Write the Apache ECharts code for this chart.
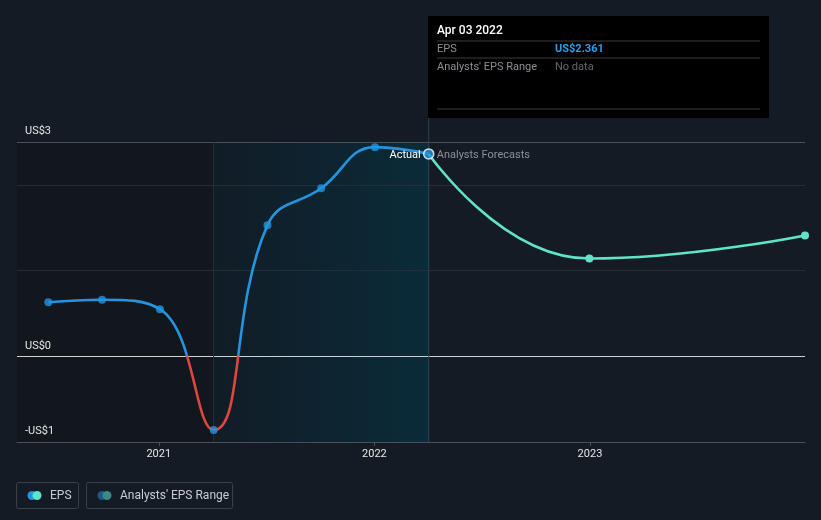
<!DOCTYPE html>
<html><head><meta charset="utf-8">
<script src="https://cdn.jsdelivr.net/npm/echarts@6/dist/echarts.min.js"></script>
<style>html,body{margin:0;padding:0;background:#151b24}#c{width:821px;height:520px}</style>
</head><body><div id="c"></div>
<script>
const actualDates = ['2020-06-28','2020-09-27','2021-01-03','2021-04-04','2021-07-04','2021-10-03','2022-01-02','2022-04-03'];
const actualEps = [0.63, 0.66, 0.55, -0.86, 1.53, 1.96, 2.44, 2.361];
const forecastDates = ['2022-04-03','2022-12-31','2023-12-31'];
const forecastEps = [2.361, 1.14, 1.41];
const yearTicks = ['2021-01-01','2022-01-01','2023-01-01'];
const yMin = -1, yMax = 2.5;
const yTickLabels = {'-1':'-US$1','0':'US$0','2.5':'US$3'};
const pastStart = '2020-05-06', rangeStart = '2021-04-04', rangeEnd = '2022-04-03', axisEnd = '2023-12-31';
const tooltipDate = 'Apr 03 2022', tooltipEps = 'US$2.361', tooltipRange = 'No data';
const legendItems = ['EPS', "Analysts' EPS Range"];

const FONT = 'Roboto, "Noto Sans", sans-serif';
const BLUE = '#2394df', RED = '#e0453f', TEAL = '#5fe3c9';
const chart = echarts.init(document.getElementById('c'), null, {renderer:'canvas'});
const ts = d => new Date(d + 'T00:00:00Z').getTime();

const option = {
  backgroundColor: '#151b24',
  animation: false,
  textStyle: {fontFamily: FONT},
  grid: {left: 17, right: 16, top: 142, bottom: 78, containLabel: false},
  xAxis: {
    type: 'value', min: ts(pastStart), max: ts(axisEnd), z: 1,
    axisLine: {show: true, onZero: false, lineStyle: {color: '#4a5058', width: 1}},
    axisTick: {show: true, customValues: yearTicks.map(ts), length: 4, lineStyle: {color: '#4a5058'}},
    axisLabel: {show: true, customValues: yearTicks.map(ts), color: '#e6e6e6', fontSize: 11, margin: 7,
      fontFamily: FONT, formatter: v => String(new Date(v).getUTCFullYear())},
    splitLine: {show: false}
  },
  yAxis: {
    type: 'value', min: yMin, max: yMax, interval: 1, z: 1,
    axisLine: {show: false}, axisTick: {show: false},
    axisLabel: {inside: true, color: '#e6e6e6', fontSize: 11, fontFamily: FONT, margin: 8,
      verticalAlign: 'bottom', padding: [0,0,5,0],
      formatter: v => { const k = String(Math.round(v*10)/10); return yTickLabels[k] || ''; }},
    splitLine: {show: true, lineStyle: {color: ['#4a5058','#cfcfcf','#262d36','#262d36','#4a5058'], width: 1}}
  },
  series: [
    {
      type: 'line', z: 0, silent: true, symbol: 'none',
      data: [[ts(pastStart), 0]], lineStyle: {opacity: 0},
      markArea: {
        silent: true, z: 0,
        data: [
          [{xAxis: ts(pastStart), itemStyle: {color: '#12171e'}}, {xAxis: ts(rangeStart)}],
          [{xAxis: ts(rangeStart), itemStyle: {color: new echarts.graphic.LinearGradient(0,0,1,0,[
            {offset: 0, color: '#111c26'}, {offset: 1, color: '#0b2b39'}])}}, {xAxis: ts(rangeEnd)}]
        ]
      },
      markLine: {
        silent: true, symbol: 'none', z: 2, label: {show: false},
        data: [
          {xAxis: ts(rangeStart), lineStyle: {color: '#1a2f39', width: 1, type: 'solid'}}
        ]
      }
    },
    {
      type: 'line', z: 3, smooth: 0.45, showSymbol: false, silent: true,
      data: actualDates.map((d, i) => [ts(d), actualEps[i]]),
      lineStyle: {width: 2.6, color: BLUE}
    },
    {
      type: 'line', z: 3, smooth: 0.5, silent: true, symbol: 'circle', symbolSize: 8,
      data: forecastDates.map((d, i) => ({value: [ts(d), forecastEps[i]], symbolSize: i === 0 ? 0 : 8})),
      itemStyle: {color: TEAL},
      lineStyle: {width: 2.6, color: TEAL}
    },
    {
      type: 'scatter', z: 5, silent: true, symbol: 'circle',
      data: actualDates.map((d, i) => {
        const last = i === actualDates.length - 1;
        return {value: [ts(d), actualEps[i]], symbolSize: last ? 10 : 8,
          itemStyle: last ? {color: BLUE, borderColor: '#ffffff', borderWidth: 1.5} : {color: BLUE}};
      })
    }
  ]
};
chart.setOption(option);

const pEnd = chart.convertToPixel({gridIndex: 0}, [ts(rangeEnd), actualEps[actualEps.length - 1]]);
const pBottom = chart.convertToPixel({gridIndex: 0}, [ts(rangeEnd), yMin]);
const pTop = chart.convertToPixel({gridIndex: 0}, [ts(rangeEnd), yMax]);
const pZero = chart.convertToPixel({gridIndex: 0}, [ts(rangeEnd), 0]);
const f = (pZero[1] - pTop[1]) / (pBottom[1] - pTop[1]);

chart.setOption({
  series: [{}, {lineStyle: {color: new echarts.graphic.LinearGradient(0, pTop[1], 0, pBottom[1], [
    {offset: 0, color: BLUE}, {offset: f, color: BLUE}, {offset: f, color: RED}, {offset: 1, color: RED}], true)}}],
  graphic: [
    {type: 'line', z: 2, silent: true, shape: {x1: pEnd[0], y1: 118, x2: pEnd[0], y2: pBottom[1]},
      style: {stroke: '#2b4652', lineWidth: 1}},
    {type: 'text', z: 10, silent: true, x: pEnd[0] - 8, y: pEnd[1] + 1,
      style: {text: 'Actual', fill: '#ffffff', font: '11px ' + FONT, align: 'right', verticalAlign: 'middle'}},
    {type: 'text', z: 10, silent: true, x: pEnd[0] + 8, y: pEnd[1] + 1,
      style: {text: 'Analysts Forecasts', fill: '#8b9198', font: '11px ' + FONT, align: 'left', verticalAlign: 'middle'}},
    {type: 'group', z: 20, silent: true, children: [
      {type: 'rect', shape: {x: 428, y: 16, width: 341, height: 102}, style: {fill: '#000000'}},
      {type: 'text', x: 437, y: 31, style: {text: tooltipDate, fill: '#ffffff', font: '500 12px ' + FONT, verticalAlign: 'middle'}},
      {type: 'line', shape: {x1: 437, y1: 41, x2: 760, y2: 41}, style: {stroke: '#3a3a3a', lineWidth: 1}},
      {type: 'text', x: 437, y: 49, style: {text: 'EPS', fill: '#8b8f95', font: '11px ' + FONT, verticalAlign: 'middle'}},
      {type: 'text', x: 555, y: 49, style: {text: tooltipEps, fill: '#2d9ce6', font: 'bold 11px ' + FONT, verticalAlign: 'middle'}},
      {type: 'line', shape: {x1: 437, y1: 58, x2: 760, y2: 58}, style: {stroke: '#3a3a3a', lineWidth: 1}},
      {type: 'text', x: 437, y: 67, style: {text: "Analysts' EPS Range", fill: '#8b8f95', font: '11px ' + FONT, verticalAlign: 'middle'}},
      {type: 'text', x: 555, y: 67, style: {text: tooltipRange, fill: '#62666c', font: '11px ' + FONT, verticalAlign: 'middle'}},
      {type: 'line', shape: {x1: 437, y1: 109, x2: 760, y2: 109}, style: {stroke: '#3a3a3a', lineWidth: 1}}
    ]},
    {type: 'group', z: 20, silent: true, children: [
      {type: 'rect', shape: {x: 16.5, y: 482.5, width: 62, height: 26, r: 2}, style: {fill: 'none', stroke: '#3a4049', lineWidth: 1}},
      {type: 'circle', shape: {cx: 32, cy: 495.5, r: 4.5}, style: {fill: BLUE}},
      {type: 'circle', shape: {cx: 37, cy: 495.5, r: 4.5}, style: {fill: TEAL}},
      {type: 'text', x: 50, y: 496, style: {text: legendItems[0], fill: '#c9cdd2', font: '12px ' + FONT, verticalAlign: 'middle'}},
      {type: 'rect', shape: {x: 86.5, y: 482.5, width: 146, height: 26, r: 2}, style: {fill: 'none', stroke: '#3a4049', lineWidth: 1}},
      {type: 'circle', shape: {cx: 102, cy: 495.5, r: 4.5}, style: {fill: '#1d5a82'}},
      {type: 'circle', shape: {cx: 107, cy: 495.5, r: 4.5}, style: {fill: '#3c8884'}},
      {type: 'text', x: 120, y: 496, style: {text: legendItems[1], fill: '#c9cdd2', font: '12px ' + FONT, verticalAlign: 'middle'}}
    ]}
  ]
});
</script>
</body></html>
